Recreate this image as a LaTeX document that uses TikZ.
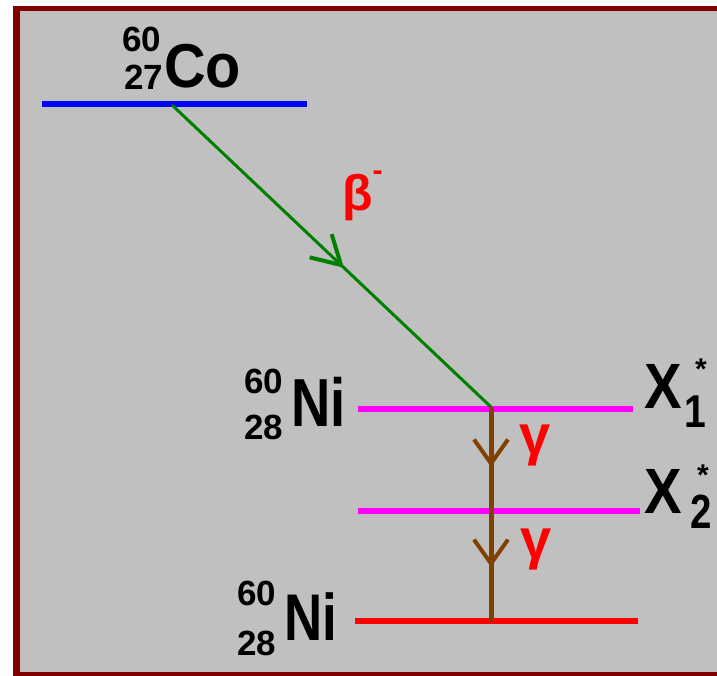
\documentclass[tikz,border=0pt]{standalone}
\usepackage{fontspec}
\setmainfont{Liberation Sans}
\usepackage{graphicx}
\usetikzlibrary{arrows.meta,decorations.markings}
\definecolor{bg}{HTML}{C0C0C0}
\definecolor{frame}{HTML}{800000}
\definecolor{grn}{HTML}{008000}
\definecolor{brn}{HTML}{804000}
\definecolor{mag}{HTML}{FF00FF}
\newcommand\myfs[1]{\fontsize{#1}{#1}\selectfont}
\begin{document}
\begin{tikzpicture}[x=1pt,y=-1pt,
  lbl/.style={inner sep=0pt, outer sep=0pt, anchor=base west, font=\bfseries},
  starlbl/.style={inner sep=0pt, outer sep=0pt, anchor=base, font=\bfseries\myfs{30}},
  level/.style={line width=5.5pt},
  gammalbl/.style={lbl, text=red, font=\bfseries\myfs{56}}
]
\useasboundingbox (0,0) rectangle (717,676);
\fill[white] (0,0) rectangle (740,700);
\fill[frame] (13,6) rectangle (740,700);
\fill[bg] (20,11) rectangle (740,672);

% energy levels
\coordinate (bl) at (42,104);  \coordinate (br) at (307,104);
\coordinate (m1l) at (358,409); \coordinate (m1r) at (633,409);
\coordinate (m2l) at (358,511); \coordinate (m2r) at (640,511);
\coordinate (rl) at (355,621); \coordinate (rr) at (638,621);
\draw[level, blue] (bl) -- (br);
\draw[level, mag] (m1l) -- (m1r);
\draw[level, mag] (m2l) -- (m2r);
\draw[level, red] (rl) -- (rr);

% transitions
\coordinate (co) at (172,105);
\coordinate (x1) at (491,407);
\coordinate (gnd) at (491,621);
\draw[grn, line width=3pt, postaction={decorate},
  decoration={markings, mark=at position 0.539 with {\arrow[grn]{Straight Barb[length=28pt,width=32pt,line width=4pt]}}}]
  (co) -- (x1);
\draw[brn, line width=5pt, postaction={decorate},
  decoration={markings,
    mark=at position 0.28 with {\arrow[brn]{Straight Barb[length=24pt,width=34pt,line width=4pt]}},
    mark=at position 0.748 with {\arrow[brn]{Straight Barb[length=24pt,width=34pt,line width=4pt]}}}]
  (x1) -- (gnd);

% Co label
\node[lbl, font=\bfseries\myfs{35}] (co60) at (122,52) {60};
\node[lbl, font=\bfseries\myfs{35}] (co27) at (124,90) {27};
\node[lbl, font=\bfseries\myfs{62}] (coname) at (164,88) {\scalebox{0.93}[1]{Co}};

% upper Ni label
\node[lbl, font=\bfseries\myfs{35}] (ni1a) at (244,393) {60};
\node[lbl, font=\bfseries\myfs{35}] (ni1b) at (244,439) {28};
\node[lbl, font=\bfseries\myfs{68}] (ni1) at (291,426) {\scalebox{0.8}[1]{Ni}};

% lower Ni label
\node[lbl, font=\bfseries\myfs{35}] (ni2a) at (237,605) {60};
\node[lbl, font=\bfseries\myfs{35}] (ni2b) at (237,655) {28};
\node[lbl, font=\bfseries\myfs{66}] (ni2) at (284,640) {\scalebox{0.8}[1]{Ni}};

% X labels
\node[lbl, font=\bfseries\myfs{64}] (x1name) at (644,408) {\scalebox{0.88}[1]{X}};
\node[lbl, font=\bfseries\myfs{46}] (x1sub) at (684,427) {\scalebox{0.85}[1]{1}};
\node[starlbl] (x1star) at (701,379) {*};
\node[lbl, font=\bfseries\myfs{64}] (x2name) at (644,513) {\scalebox{0.88}[1]{X}};
\node[lbl, font=\bfseries\myfs{48}] (x2sub) at (690,528) {\scalebox{0.8}[1]{2}};
\node[starlbl] (x2star) at (703,485) {*};

% beta and gamma labels
\node[lbl, text=red, font=\bfseries\myfs{50}] (beta) at (342,211) {β\raisebox{30pt}{\myfs{30}-}};
\node[gammalbl] (g1) at (519,454) {γ};
\node[gammalbl] (g2) at (520,558) {γ};
\end{tikzpicture}
\end{document}
